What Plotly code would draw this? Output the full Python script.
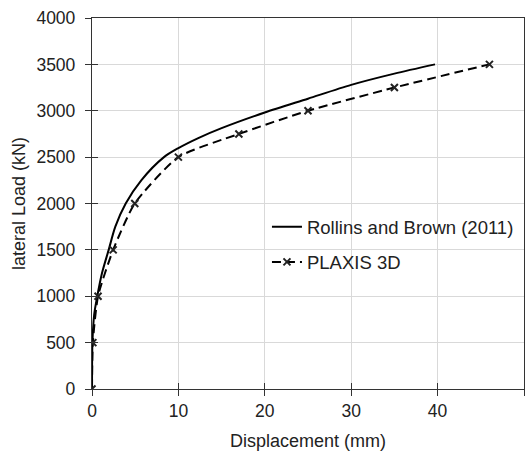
import plotly.graph_objects as go

# Data
rollins_x = [0, 0.05, 0.25, 0.61, 1.16, 1.93, 2.7, 3.9, 5.7, 8.33, 10.0, 12.3, 15.0, 20.0, 25.0, 30.0, 35.0, 39.7]
rollins_y = [0, 500, 800, 1000, 1250, 1500, 1750, 2000, 2250, 2500, 2597, 2705, 2812, 2981, 3130, 3279, 3400, 3500]

plaxis_x = [0, 0.1, 0.7, 2.45, 4.95, 10, 17, 25, 35, 46]
plaxis_y = [0, 500, 1000, 1500, 2000, 2500, 2750, 3000, 3250, 3500]

x_ticks = [0, 10, 20, 30, 40, 50]
y_ticks = [0, 500, 1000, 1500, 2000, 2500, 3000, 3500, 4000]

FONT = "Liberation Sans, Arial, sans-serif"
AX_COL = "#333333"
GRID_COL = "#d9d9d9"
TXT = "#222222"

fig = go.Figure()
fig.add_trace(go.Scatter(
    x=rollins_x, y=rollins_y, mode="lines", name="Rollins and Brown (2011)",
    line=dict(color="black", width=2, shape="spline", smoothing=0.8),
    legendgroup="a",
))
fig.add_trace(go.Scatter(
    x=plaxis_x, y=plaxis_y, mode="lines+markers", name="PLAXIS 3D",
    xaxis="x2", yaxis="y2",
    line=dict(color="black", width=2, dash="9px,5px", shape="spline", smoothing=0.6),
    marker=dict(symbol="x-thin", size=7, color=TXT, line=dict(width=2, color=TXT)),
    legendgroup="b",
))

fig.update_layout(
    width=532, height=453,
    margin=dict(l=92, r=8, t=18, b=64, autoexpand=False),
    paper_bgcolor="white", plot_bgcolor="white",
    font=dict(family=FONT, size=17, color=TXT),
    showlegend=True,
    legend=dict(
        x=0.405, y=0.487, xanchor="left", yanchor="top",
        bgcolor="rgba(0,0,0,0)", font=dict(size=18.5, family=FONT, color=TXT),
        tracegroupgap=8, traceorder="grouped",
    ),
    xaxis=dict(
        range=[0, 50], tickvals=x_ticks, ticktext=[str(v) for v in x_ticks],
        showgrid=True, gridcolor=GRID_COL, gridwidth=1,
        showline=True, linecolor=AX_COL, linewidth=1.3, mirror=True,
        ticks="outside", ticklen=6, tickcolor=AX_COL, tickwidth=1.3,
        zeroline=False, automargin=False,
        tickfont=dict(size=17.5, family=FONT, color=TXT),
        title=dict(text="Displacement (mm)", font=dict(size=18, family=FONT, color=TXT), standoff=14),
    ),
    yaxis=dict(
        range=[0, 4000], tickvals=y_ticks, ticktext=[str(v) for v in y_ticks],
        showgrid=True, gridcolor=GRID_COL, gridwidth=1,
        showline=True, linecolor=AX_COL, linewidth=1.3, mirror=True,
        ticks="outside", ticklen=6, tickcolor=AX_COL, tickwidth=1.3,
        zeroline=False, ticklabelstandoff=6, automargin=False,
        tickfont=dict(size=17.5, family=FONT, color=TXT),
        title=dict(text="lateral Load (kN)", font=dict(size=18, family=FONT, color=TXT), standoff=6),
    ),
    xaxis2=dict(
        overlaying="x", matches="x", range=[0, 50], tickvals=x_ticks,
        showticklabels=False, showgrid=False, zeroline=False, showline=False,
        ticks="inside", ticklen=6, tickcolor=AX_COL, tickwidth=1.3, anchor="y2",
        automargin=False,
    ),
    yaxis2=dict(
        overlaying="y", matches="y", range=[0, 4000], tickvals=y_ticks,
        showticklabels=False, showgrid=False, zeroline=False, showline=False,
        ticks="inside", ticklen=6, tickcolor=AX_COL, tickwidth=1.3, anchor="x2", side="left",
        automargin=False,
    ),
)

fig.write_html("out.html")
